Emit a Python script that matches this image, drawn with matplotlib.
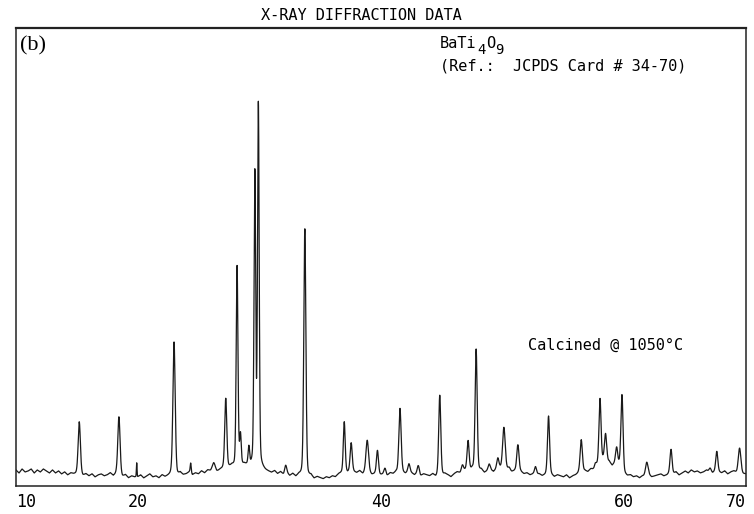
import numpy as np
from matplotlib import pyplot as plt

# peak list: 2-theta (deg), height above background, FWHM (deg)
peak_pos = [15.20, 18.46, 19.92, 22.99, 24.36, 26.26, 27.24, 28.17, 28.45, 29.14,
            29.63, 29.92, 32.16, 33.74, 36.98, 37.55, 38.87, 39.71, 40.33, 41.56,
            42.30, 43.07, 44.83, 46.69, 47.16, 47.82, 48.89, 49.60, 50.10, 50.53,
            51.25, 52.70, 53.77, 56.46, 57.61, 58.00, 58.46, 59.37, 59.81, 61.84,
            63.84, 67.05, 67.60, 69.47]
peak_height = [53, 58, 14, 132, 10, 6, 72, 200, 30, 18,
               290, 360, 8, 248, 50, 28, 32, 25, 6, 66,
               8, 8, 80, 6, 30, 122, 6, 10, 42, 3,
               28, 8, 58, 34, 4, 65, 30, 16, 70, 14,
               24, 4, 20, 24]
peak_fwhm = [0.22, 0.22, 0.06, 0.22, 0.10, 0.30, 0.20, 0.17, 0.15, 0.15,
             0.16, 0.16, 0.20, 0.20, 0.18, 0.20, 0.25, 0.20, 0.20, 0.22,
             0.20, 0.20, 0.20, 0.20, 0.20, 0.20, 0.20, 0.20, 0.25, 0.20,
             0.22, 0.20, 0.20, 0.22, 0.20, 0.20, 0.22, 0.20, 0.20, 0.25,
             0.20, 0.20, 0.20, 0.25]

# background (noise floor) read every 0.25 deg from 10 to 70
bg_x = np.arange(10, 70.001, 0.25)
bg = [16, 13, 17, 14, 15, 17, 13, 16, 14, 17, 15, 13, 16, 13, 15, 12,
      14, 11, 13, 12, 12, 11, 10, 12, 10, 12, 9, 11, 12, 10, 11, 13,
      10, 12, 11, 9, 11, 8, 10, 9, 9, 11, 8, 10, 12, 9, 10, 8,
      11, 9, 10, 11, 12, 10, 13, 11, 12, 14, 11, 13, 12, 15, 13, 16,
      15, 17, 14, 16, 17, 15, 18, 20, 18, 20, 19, 21, 20, 19, 21, 20,
      19, 17, 15, 14, 13, 15, 12, 14, 11, 13, 10, 12, 9, 11, 10, 9,
      8, 10, 7, 9, 8, 7, 9, 8, 10, 9, 12, 13, 14, 13, 15, 14,
      13, 15, 12, 14, 13, 11, 12, 10, 11, 12, 10, 13, 12, 14, 11, 13,
      12, 14, 13, 11, 13, 10, 12, 11, 10, 12, 9, 11, 10, 12, 11, 9,
      12, 14, 13, 15, 16, 14, 17, 15, 14, 16, 13, 15, 16, 14, 17, 18,
      16, 17, 15, 14, 15, 13, 14, 12, 13, 11, 12, 11, 12, 10, 11, 12,
      11, 9, 11, 10, 9, 11, 8, 10, 11, 13, 12, 15, 14, 17, 16, 20,
      22, 25, 21, 24, 20, 23, 21, 24, 12, 10, 11, 9, 10, 8, 10, 9,
      11, 9, 10, 11, 12, 10, 11, 13, 12, 14, 11, 13, 15, 13, 16, 14,
      15, 13, 14, 16, 14, 13, 15, 14, 13, 15, 12, 14, 15, 13, 14, 12,
      12]

tick_vals = [10, 20, 40, 60, 70]

tt = np.arange(10, 70, 0.01)
y = np.interp(tt, bg_x, bg)
for p, h, w in zip(peak_pos, peak_height, peak_fwhm):
    s = w / 2.3548
    g = np.exp(-0.5 * ((tt - p) / s) ** 2)
    l = 1 / (1 + ((tt - p) / (w / 2)) ** 2)
    y = y + h * (0.75 * g + 0.25 * l)

W, H = 754, 514
fig = plt.figure(figsize=(W / 100, H / 100), dpi=100)
ax = fig.add_axes([16 / W, (H - 486) / H, (746 - 16) / W, (486 - 28) / H])
ax.plot(tt, y, color='#1a1a1a', lw=0.9)
ax.set_xlim(10, 70)
ax.set_ylim(0, 458)
ax.set_yticks([])
ax.set_xticks(tick_vals)
ax.set_xticklabels([str(v) for v in tick_vals], family='DejaVu Sans Mono', fontsize=12)
ax.tick_params(axis='x', length=0, pad=5)
ax.get_xticklabels()[-1].set_ha('right')
ax.get_xticklabels()[0].set_ha('left')
for sp in ax.spines.values():
    sp.set_linewidth(1.1)
    sp.set_color('#222222')
ax.spines['top'].set_linewidth(1.6)

mono = 'DejaVu Sans Mono'
fig.text(361 / W, 1 - 15 / H, 'X-RAY DIFFRACTION DATA', family=mono,
         fontsize=11, ha='center', va='center')
fig.text(20 / W, 1 - 46 / H, '(b)', family='Liberation Serif', fontsize=16,
         ha='left', va='center')
# formula with near full-size subscripts, as typed on the original
fig.text(440 / W, 1 - 43 / H, 'BaTi', family=mono, fontsize=11, ha='left', va='center')
fig.text(477 / W, 1 - 50 / H, '4', family=mono, fontsize=10, ha='left', va='center')
fig.text(486 / W, 1 - 43 / H, 'O', family=mono, fontsize=11, ha='left', va='center')
fig.text(495 / W, 1 - 50 / H, '9', family=mono, fontsize=10, ha='left', va='center')
fig.text(440 / W, 1 - 66 / H, '(Ref.:  JCPDS Card # 34-70)', family=mono,
         fontsize=11, ha='left', va='center')
fig.text(528 / W, 1 - 345 / H, 'Calcined @ 1050°C', family=mono,
         fontsize=11, ha='left', va='center')

fig.savefig('out.png', dpi=100)
